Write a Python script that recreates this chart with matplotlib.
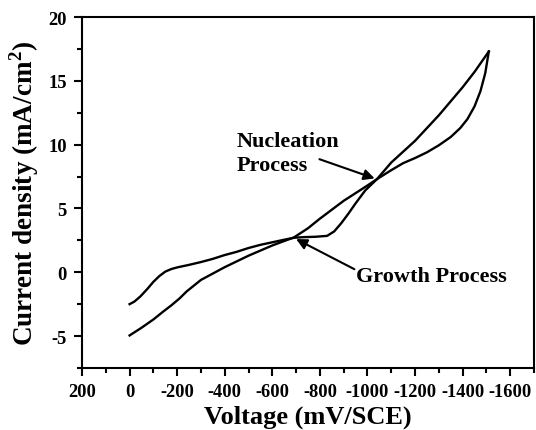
import matplotlib
matplotlib.use("Agg")
import matplotlib.pyplot as plt
from matplotlib.ticker import MultipleLocator

plt.rcParams['font.family'] = ['Liberation Serif', 'DejaVu Serif']
plt.rcParams['font.weight'] = 'bold'
plt.rcParams['axes.unicode_minus'] = False
plt.rcParams['mathtext.fontset'] = 'custom'
plt.rcParams['mathtext.rm'] = 'Liberation Serif:bold'
plt.rcParams['mathtext.bf'] = 'Liberation Serif:bold'

# Scan 1: starts at -2.5 mA/cm2, reaches the vertex at about -1510 mV
scan1_v = [0, -20, -45, -75, -100, -125, -150, -175, -200, -250, -300, -350,
           -400, -450, -500, -550, -600, -650, -690, -730, -780, -830, -860,
           -890, -920, -950, -990, -1040, -1100, -1150, -1200, -1250, -1300,
           -1350, -1400, -1450, -1510]
scan1_i = [-2.5, -2.3, -1.9, -1.3, -0.75, -0.3, 0.05, 0.25, 0.38, 0.58, 0.8,
           1.05, 1.35, 1.6, 1.9, 2.15, 2.35, 2.55, 2.7, 2.75, 2.78, 2.85, 3.2,
           3.85, 4.6, 5.4, 6.4, 7.3, 8.6, 9.45, 10.3, 11.3, 12.3, 13.4, 14.5,
           15.7, 17.3]

# Scan 2: starts at -5 mA/cm2, meets scan 1 at the same vertex
scan2_v = [0, -50, -100, -140, -175, -210, -240, -270, -300, -350, -400, -450,
           -500, -550, -600, -650, -690, -750, -800, -850, -900, -950, -1000,
           -1040, -1100, -1150, -1200, -1250, -1300, -1350, -1390, -1420,
           -1450, -1475, -1495, -1510]
scan2_i = [-4.95, -4.35, -3.7, -3.1, -2.6, -2.05, -1.5, -1.05, -0.6, -0.1,
           0.4, 0.85, 1.3, 1.7, 2.1, 2.45, 2.72, 3.45, 4.2, 4.9, 5.6, 6.2,
           6.8, 7.3, 8.0, 8.55, 8.95, 9.4, 9.95, 10.6, 11.3, 12.0, 13.0,
           14.2, 15.6, 17.3]

x_ticks = [200, 0, -200, -400, -600, -800, -1000, -1200, -1400, -1600]
y_ticks = [-5, 0, 5, 10, 15, 20]

fig = plt.figure(figsize=(5.36, 4.31), dpi=100)
ax = fig.add_axes([0.153, 0.1439, 0.8433, 0.8143])

ax.plot(scan1_v, scan1_i, color='black', lw=1.7)
ax.plot(scan2_v, scan2_i, color='black', lw=1.7)

ax.set_xlim(200, -1700)
ax.set_ylim(-7.5, 20)
ax.set_xticks(x_ticks)
ax.set_yticks(y_ticks)
ax.xaxis.set_minor_locator(MultipleLocator(100))
ax.yaxis.set_minor_locator(MultipleLocator(2.5))
ax.tick_params(which='both', direction='out', top=False, right=False,
               labelsize=13.3, width=1.5)
ax.tick_params(which='major', length=6, pad=5)
ax.tick_params(which='minor', length=3.5)
for lab in ax.get_xticklabels() + ax.get_yticklabels():
    lab.set_fontweight('bold')
for sp in ax.spines.values():
    sp.set_linewidth(1.5)

ax.set_xlabel('Voltage (mV/SCE)', fontsize=19, fontweight='bold', labelpad=3)
ax.set_ylabel(r'Current density (mA/cm$^{2}$)', fontsize=19.5,
              fontweight='bold', labelpad=5)

arrow = dict(arrowstyle='-|>', color='black', lw=1.5, mutation_scale=16,
             shrinkA=0, shrinkB=0)
ax.annotate('', xy=(-1030, 7.35), xytext=(-798, 8.86), arrowprops=arrow)
ax.annotate('', xy=(-700, 2.6), xytext=(-945, 0.24), arrowprops=arrow)
ax.text(-450, 9.37, 'Nucleation\nProcess', fontsize=16, fontweight='bold',
        ha='left', va='center', linespacing=1.25)
ax.text(-953, -0.31, 'Growth Process', fontsize=16, fontweight='bold',
        ha='left', va='center')

fig.savefig('out.png', dpi=100)
